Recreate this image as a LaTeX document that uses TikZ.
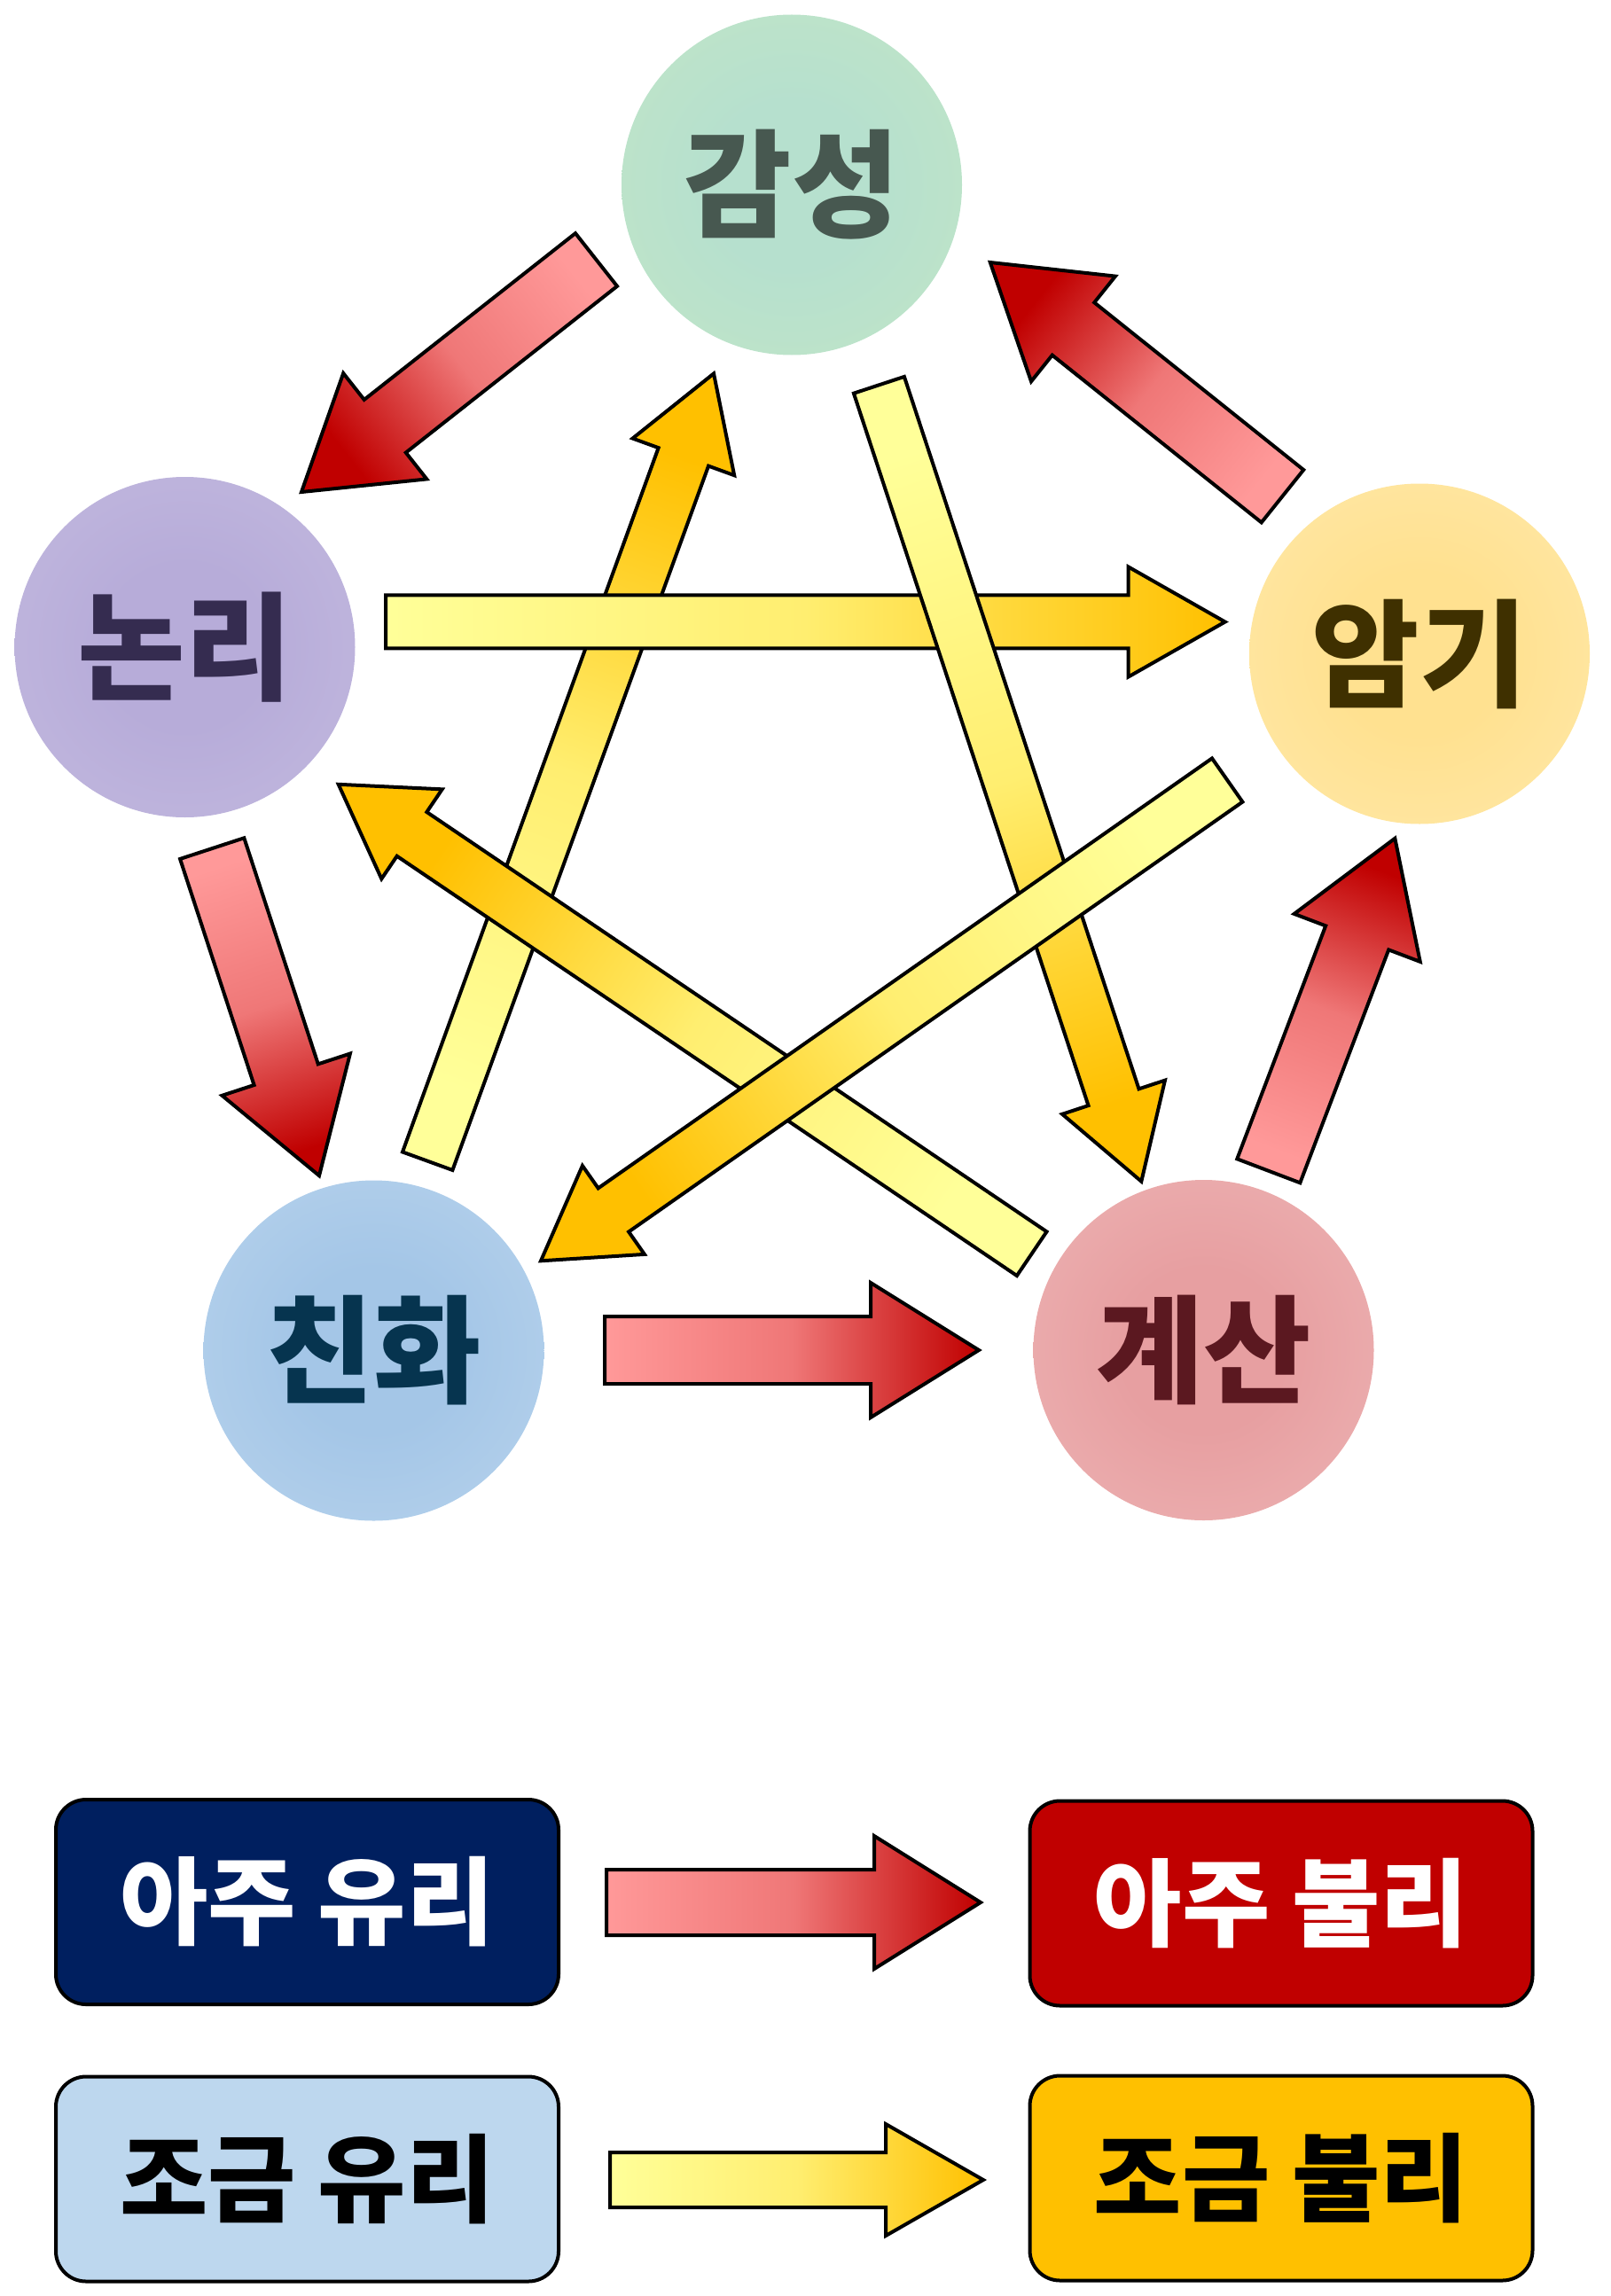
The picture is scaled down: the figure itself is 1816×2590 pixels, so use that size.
\documentclass[tikz,border=0pt]{standalone}
\usepackage{fontspec}
\newfontfamily\kr{Noto Sans CJK KR}
\usetikzlibrary{calc}
% circle colours
\definecolor{gIn}{HTML}{B6E0CE}\definecolor{gOut}{HTML}{C8E8C2}
\definecolor{pIn}{HTML}{B7ACD9}\definecolor{pOut}{HTML}{CAC2E3}
\definecolor{yIn}{HTML}{FFE190}\definecolor{yOut}{HTML}{FFECB8}
\definecolor{bIn}{HTML}{A4C6E7}\definecolor{bOut}{HTML}{C3DAEF}
\definecolor{kIn}{HTML}{E79FA1}\definecolor{kOut}{HTML}{F1BFBF}
% text colours
\definecolor{tG}{HTML}{475850}
\definecolor{tP}{HTML}{352C50}
\definecolor{tY}{HTML}{3F3000}
\definecolor{tB}{HTML}{06344F}
\definecolor{tK}{HTML}{5B1820}
% arrow colours
\definecolor{rTail}{HTML}{FF9999}\definecolor{rMid}{HTML}{EF7777}\definecolor{rTip}{HTML}{C00000}
\definecolor{yTail}{HTML}{FFFF99}\definecolor{yMid}{HTML}{FFEE70}\definecolor{yTip}{HTML}{FFC000}
% legend colours
\definecolor{navy}{HTML}{001F5F}
\definecolor{dred}{HTML}{C00000}
\definecolor{lblue}{HTML}{BDD7EE}
\definecolor{gold}{HTML}{FFC000}
\pgfdeclareradialshading{ballG}{\pgfpoint{0bp}{0bp}}{color(0bp)=(gIn); color(12bp)=(gIn); color(50bp)=(gOut)}
\pgfdeclareradialshading{ballP}{\pgfpoint{0bp}{0bp}}{color(0bp)=(pIn); color(12bp)=(pIn); color(50bp)=(pOut)}
\pgfdeclareradialshading{ballY}{\pgfpoint{0bp}{0bp}}{color(0bp)=(yIn); color(12bp)=(yIn); color(50bp)=(yOut)}
\pgfdeclareradialshading{ballB}{\pgfpoint{0bp}{0bp}}{color(0bp)=(bIn); color(12bp)=(bIn); color(50bp)=(bOut)}
\pgfdeclareradialshading{ballK}{\pgfpoint{0bp}{0bp}}{color(0bp)=(kIn); color(12bp)=(kIn); color(50bp)=(kOut)}
\newcommand\blockarrow[6]{%
  \coordinate (hb) at ($(#2)!#5!(#1)$);
  \draw[#6] ($(#1)!#3!90:(#2)$) -- ($(hb)!#3!90:(#2)$) -- ($(hb)!#4!90:(#2)$) -- (#2)
    -- ($(hb)!#4!-90:(#2)$) -- ($(hb)!#3!-90:(#2)$) -- ($(#1)!#3!-90:(#2)$) -- cycle;}
\tikzset{
  ball/.style={circle, inner sep=0pt, minimum size=384pt, shade, font=\kr\bfseries\fontsize{132}{132}\selectfont},
  redarr/.style={draw=black, line width=4pt, line join=miter, bottom color=rTail, top color=rTip, middle color=rMid},
  yelarr/.style={draw=black, line width=4pt, line join=miter, bottom color=yTail, top color=yTip, middle color=yMid},
  legbox/.style={draw=black, line width=4pt, rounded corners=34pt, minimum width=567pt, minimum height=231pt, inner sep=0pt, font=\kr\bfseries\fontsize{108}{108}\selectfont}
}
\begin{document}
\begin{tikzpicture}[x=1pt, y=-1pt]
\useasboundingbox (0,0) rectangle (1816,2590);
% circles
\node[ball, shading=ballG, text=tG] (gs) at (893,208.5) {감성};
\node[ball, shading=ballP, text=tP] (nr) at (208.5,730) {논리};
\node[ball, shading=ballY, text=tY] (ag) at (1601,737.5) {암기};
\node[ball, shading=ballB, text=tB] (ch) at (421.5,1523.5) {친화};
\node[ball, shading=ballK, text=tK] (gy) at (1357.5,1523) {계산};
% arrow end points
\coordinate (r1s) at (672.5,293);   \coordinate (r1e) at (340,555);
\coordinate (r2s) at (239.2,957.1); \coordinate (r2e) at (360,1326.2);
\coordinate (r3s) at (682,1523);    \coordinate (r3e) at (1104,1523);
\coordinate (r4s) at (1430.8,1320.8); \coordinate (r4e) at (1573.3,945.7);
\coordinate (r5s) at (1446.5,559.7); \coordinate (r5e) at (1116.8,296);
\coordinate (y1s) at (435,701.4);   \coordinate (y1e) at (1381.7,701.5);
\coordinate (y2s) at (1384.2,880);  \coordinate (y2e) at (610,1422.3);
\coordinate (y3s) at (482.2,1309.7); \coordinate (y3e) at (805,421.4);
\coordinate (y4s) at (991.4,434.3); \coordinate (y4e) at (1287.3,1332.7);
\coordinate (y5s) at (1163.7,1414.2); \coordinate (y5e) at (381.7,884.8);
% red cycle
\blockarrow{r1s}{r1e}{38pt}{76pt}{120pt}{redarr, shading angle=128.2}
\blockarrow{r2s}{r2e}{38pt}{76pt}{120pt}{redarr, shading angle=-161.9}
\blockarrow{r3s}{r3e}{38pt}{76pt}{122pt}{redarr, shading angle=-90}
\blockarrow{r4s}{r4e}{38pt}{76pt}{120pt}{redarr, shading angle=-20.8}
\blockarrow{r5s}{r5e}{38pt}{76pt}{120pt}{redarr, shading angle=51.3}
% yellow star
\blockarrow{y3s}{y3e}{30pt}{61pt}{100pt}{yelarr, shading angle=-20}
\blockarrow{y1s}{y1e}{30pt}{62pt}{109pt}{yelarr, shading angle=-90}
\blockarrow{y4s}{y4e}{30pt}{61pt}{100pt}{yelarr, shading angle=-161.8}
\blockarrow{y5s}{y5e}{30pt}{61pt}{100pt}{yelarr, shading angle=55.9}
\blockarrow{y2s}{y2e}{30pt}{61pt}{100pt}{yelarr, shading angle=125}
% legend
\node[legbox, fill=navy, text=white] (l1) at (346.5,2145.5) {아주 유리};
\node[legbox, fill=dred, text=white] (l2) at (1445,2147) {아주 불리};
\node[legbox, fill=lblue, text=black] (l3) at (346.5,2458) {조금 유리};
\node[legbox, fill=gold, text=black] (l4) at (1445,2457) {조금 불리};
\coordinate (lrs) at (684,2146);  \coordinate (lre) at (1106,2146);
\coordinate (lys) at (688,2459);  \coordinate (lye) at (1109,2459);
\blockarrow{lrs}{lre}{37pt}{75pt}{120pt}{redarr, shading angle=-90}
\blockarrow{lys}{lye}{31pt}{63pt}{110pt}{yelarr, shading angle=-90}
\end{tikzpicture}
\end{document}
